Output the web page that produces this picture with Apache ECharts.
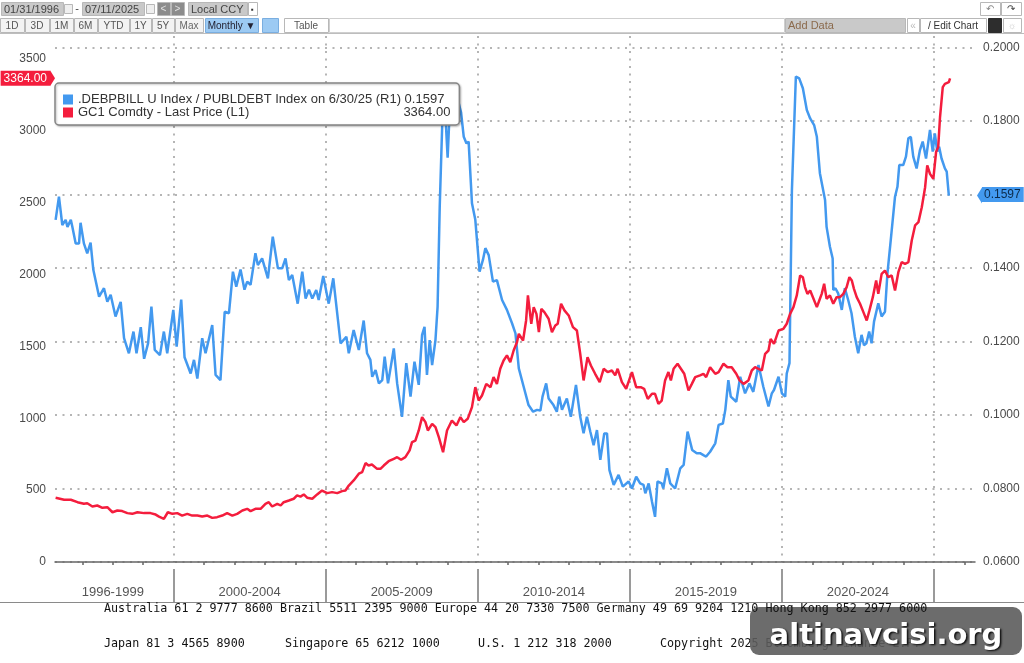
<!DOCTYPE html>
<html>
<head>
<meta charset="utf-8">
<title>T-Bills / Public Debt vs Gold</title>
<script src="https://cdn.jsdelivr.net/npm/echarts@6.0.0/dist/echarts.min.js"></script>
<style>
  html, body { margin: 0; padding: 0; background: #fff; }
  #chart { width: 1024px; height: 663px; }
</style>
</head>
<body>
<div id="chart"></div>
<script>
// --- data (x = decimal year) ---
const ratioYears = [
  1996.12, 1996.23, 1996.34, 1996.45, 1996.51, 1996.62, 1996.67, 1996.78, 1996.89, 1996.94,
  1997.05, 1997.16, 1997.27, 1997.36, 1997.55, 1997.71, 1997.82, 1997.93, 1998.09, 1998.26,
  1998.37, 1998.53, 1998.59, 1998.68, 1998.78, 1998.92, 1999.03, 1999.16, 1999.27, 1999.38,
  1999.55, 1999.68, 1999.79, 1999.99, 2000.10, 2000.25, 2000.36, 2000.56, 2000.67, 2000.78,
  2000.94, 2001.05, 2001.27, 2001.38, 2001.54, 2001.68, 2001.82, 2001.95, 2002.06, 2002.20,
  2002.33, 2002.42, 2002.53, 2002.69, 2002.77, 2002.91, 2003.10, 2003.26, 2003.43, 2003.57,
  2003.68, 2003.79, 2003.90, 2004.08, 2004.23, 2004.34, 2004.45, 2004.56, 2004.69, 2004.77,
  2004.92, 2005.10, 2005.25, 2005.49, 2005.68, 2005.76, 2005.92, 2006.09,
  2006.25, 2006.36, 2006.47, 2006.53, 2006.64, 2006.75, 2006.86, 2006.94, 2007.05, 2007.24,
  2007.35, 2007.51, 2007.65, 2007.79, 2007.92, 2008.06, 2008.17, 2008.25, 2008.33, 2008.42,
  2008.50, 2008.61, 2008.68, 2008.75, 2008.83, 2008.91, 2009.01, 2009.10, 2009.23, 2009.34,
  2009.45, 2009.54, 2009.63, 2009.70, 2009.81, 2009.92, 2010.06, 2010.17, 2010.25, 2010.36,
  2010.50, 2010.63, 2010.80, 2010.96, 2011.13, 2011.24, 2011.35, 2011.51, 2011.67, 2011.82,
  2011.95, 2012.06, 2012.13, 2012.25, 2012.33, 2012.49, 2012.60, 2012.68, 2012.77, 2012.93,
  2013.06, 2013.23, 2013.37, 2013.48, 2013.59, 2013.70, 2013.81, 2013.92, 2014.03, 2014.16,
  2014.25, 2014.33, 2014.47, 2014.63, 2014.77, 2014.96, 2015.07, 2015.21, 2015.34, 2015.45,
  2015.51, 2015.62, 2015.73, 2015.83, 2015.91,
  2016.05, 2016.10, 2016.22, 2016.33, 2016.49, 2016.66, 2016.77, 2016.90, 2017.05, 2017.20,
  2017.31, 2017.42, 2017.51, 2017.64, 2017.81, 2017.92, 2018.06, 2018.14, 2018.24, 2018.32,
  2018.50, 2018.63, 2018.79, 2018.93, 2019.06, 2019.23, 2019.39, 2019.56, 2019.67, 2019.74,
  2019.89, 2020.00, 2020.11, 2020.16, 2020.25, 2020.33, 2020.46, 2020.57, 2020.69, 2020.82,
  2020.93, 2021.06, 2021.15, 2021.25, 2021.42, 2021.47, 2021.58, 2021.67, 2021.69, 2021.76,
  2021.85, 2021.97, 2022.07, 2022.18, 2022.29, 2022.40, 2022.51, 2022.62, 2022.70, 2022.78,
  2022.87, 2022.95, 2023.03, 2023.17, 2023.28, 2023.39, 2023.47, 2023.58, 2023.72, 2023.80,
  2023.86, 2023.99, 2024.08, 2024.16, 2024.24, 2024.32, 2024.43, 2024.54, 2024.63, 2024.74,
  2024.87, 2024.96, 2025.03, 2025.11, 2025.17, 2025.25, 2025.36, 2025.42, 2025.49
];
const ratioValues = [
  0.1531, 0.1594, 0.1517, 0.1531, 0.1512, 0.1531, 0.1512, 0.1467, 0.1467, 0.1523,
  0.1467, 0.1440, 0.1469, 0.1395, 0.1322, 0.1345, 0.1308, 0.1327, 0.1268, 0.1308,
  0.1209, 0.1168, 0.1168, 0.1227, 0.1168, 0.1239, 0.1153, 0.1195, 0.1295, 0.1177,
  0.1163, 0.1227, 0.1168, 0.1286, 0.1186, 0.1314, 0.1157, 0.1113, 0.1150, 0.1099,
  0.1209, 0.1168, 0.1245, 0.1109, 0.1095, 0.1281, 0.1277, 0.1390, 0.1349, 0.1396,
  0.1341, 0.1363, 0.1354, 0.1440, 0.1408, 0.1426, 0.1372, 0.1485, 0.1399, 0.1399,
  0.1426, 0.1367, 0.1381, 0.1303, 0.1390, 0.1317, 0.1341, 0.1317, 0.1340, 0.1313,
  0.1378, 0.1303, 0.1372, 0.1195, 0.1213, 0.1168, 0.1231, 0.1177,
  0.1257, 0.1168, 0.1150, 0.1104, 0.1122, 0.1086, 0.1095, 0.1159, 0.1086, 0.1181,
  0.1086, 0.0995, 0.1141, 0.1050, 0.1145, 0.1082, 0.1218, 0.1240, 0.1109, 0.1204,
  0.1136, 0.1204, 0.1295, 0.1567, 0.1785, 0.1860, 0.1700, 0.1870, 0.1830, 0.1860,
  0.1824, 0.1757, 0.1739, 0.1744, 0.1576, 0.1531, 0.1390, 0.1422, 0.1454, 0.1435,
  0.1363, 0.1367, 0.1313, 0.1286, 0.1249, 0.1222, 0.1127, 0.1077, 0.1027, 0.1009,
  0.1014, 0.1012, 0.1050, 0.1086, 0.1045, 0.1027, 0.1009, 0.1050, 0.1014, 0.1045,
  0.0995, 0.1082, 0.0995, 0.0950, 0.0995, 0.0955, 0.0918, 0.0959, 0.0878, 0.0950,
  0.0950, 0.0850, 0.0810, 0.0837, 0.0805, 0.0819, 0.0800, 0.0832, 0.0814, 0.0810,
  0.0787, 0.0814, 0.0764, 0.0723, 0.0819,
  0.0814, 0.0800, 0.0855, 0.0814, 0.0800, 0.0855, 0.0864, 0.0955, 0.0905, 0.0896,
  0.0896, 0.0891, 0.0887, 0.0900, 0.0923, 0.0973, 0.0977, 0.1014, 0.1095, 0.1050,
  0.1036, 0.1104, 0.1059, 0.1086, 0.1063, 0.1136, 0.1077, 0.1023, 0.1059, 0.1068,
  0.1104, 0.1059, 0.1050, 0.1113, 0.1141, 0.1612, 0.1921, 0.1916, 0.1889, 0.1830,
  0.1807, 0.1789, 0.1757, 0.1658, 0.1585, 0.1512, 0.1458, 0.1426, 0.1340, 0.1345,
  0.1331, 0.1286, 0.1345, 0.1313, 0.1277, 0.1213, 0.1168, 0.1218, 0.1190, 0.1195,
  0.1227, 0.1195, 0.1254, 0.1304, 0.1268, 0.1281, 0.1385, 0.1476, 0.1594, 0.1621,
  0.1680, 0.1680, 0.1703, 0.1753, 0.1757, 0.1703, 0.1671, 0.1721, 0.1744, 0.1698,
  0.1776, 0.1717, 0.1766, 0.1717, 0.1730, 0.1698, 0.1671, 0.1662, 0.1597
];

const goldYears = [
  1996.12, 1996.40, 1996.62, 1996.84, 1997.05, 1997.16, 1997.33, 1997.49, 1997.66, 1997.82,
  1997.99, 1998.15, 1998.31, 1998.48, 1998.64, 1998.81, 1999.03, 1999.24, 1999.41, 1999.52,
  1999.68, 1999.81, 1999.96, 2000.12, 2000.28, 2000.45, 2000.61, 2000.78, 2000.94, 2001.11,
  2001.27, 2001.43, 2001.60, 2001.76, 2001.93, 2002.09, 2002.26, 2002.42, 2002.53, 2002.69,
  2002.86, 2003.02, 2003.13, 2003.24, 2003.41, 2003.52, 2003.62, 2003.79, 2003.95, 2004.06,
  2004.17, 2004.28, 2004.39, 2004.56, 2004.72, 2004.88, 2005.05, 2005.21, 2005.38, 2005.54,
  2005.65, 2005.76, 2005.92, 2006.09,
  2006.20, 2006.31, 2006.41, 2006.52, 2006.69, 2006.80, 2006.91, 2007.07, 2007.24, 2007.35,
  2007.48, 2007.62, 2007.76, 2007.84, 2007.95, 2008.06, 2008.17, 2008.28, 2008.36, 2008.50,
  2008.61, 2008.72, 2008.86, 2008.99, 2009.15, 2009.30, 2009.43, 2009.54, 2009.67, 2009.81,
  2009.92, 2010.03, 2010.14, 2010.28, 2010.42, 2010.52, 2010.63, 2010.74, 2010.85, 2010.96,
  2011.07, 2011.18, 2011.29, 2011.35, 2011.49, 2011.59, 2011.65, 2011.76, 2011.84, 2011.93,
  2012.01, 2012.09, 2012.19, 2012.33, 2012.44, 2012.55, 2012.63, 2012.74, 2012.85, 2012.99,
  2013.13, 2013.26, 2013.37, 2013.48, 2013.61, 2013.72, 2013.86, 2014.01, 2014.14, 2014.27,
  2014.41, 2014.52, 2014.60, 2014.74, 2014.88, 2015.07, 2015.21, 2015.36, 2015.47, 2015.59,
  2015.73, 2015.83, 2015.94,
  2016.05, 2016.16, 2016.27, 2016.35, 2016.44, 2016.57, 2016.68, 2016.79, 2016.93, 2017.04,
  2017.15, 2017.31, 2017.42, 2017.51, 2017.64, 2017.81, 2017.92, 2018.08, 2018.21, 2018.35,
  2018.50, 2018.61, 2018.74, 2018.90, 2019.01, 2019.12, 2019.23, 2019.34, 2019.45, 2019.56,
  2019.63, 2019.74, 2019.89, 2020.05, 2020.16, 2020.27, 2020.38, 2020.49, 2020.60, 2020.69,
  2020.76, 2020.84, 2020.93, 2021.04, 2021.15, 2021.23, 2021.31, 2021.39, 2021.47, 2021.58,
  2021.69, 2021.80, 2021.91, 2022.02, 2022.13, 2022.22, 2022.30, 2022.37, 2022.46, 2022.57,
  2022.68, 2022.79, 2022.88, 2022.99, 2023.10, 2023.17, 2023.28, 2023.39, 2023.50, 2023.61,
  2023.72, 2023.83, 2023.94, 2024.05, 2024.16, 2024.27, 2024.38, 2024.49, 2024.60, 2024.71,
  2024.78, 2024.87, 2024.98, 2025.07, 2025.14, 2025.20, 2025.29, 2025.36, 2025.42, 2025.49,
  2025.53
];
const goldValues = [
  447, 433, 433, 416, 405, 409, 386, 393, 377, 381,
  346, 358, 354, 340, 335, 346, 340, 340, 330, 316,
  300, 346, 335, 340, 323, 335, 323, 323, 316, 323,
  307, 312, 323, 340, 323, 335, 358, 370, 354, 370,
  370, 405, 416, 386, 405, 393, 416, 428, 440, 463,
  455, 470, 447, 440, 470, 497, 479, 486, 479, 493,
  497, 532, 567, 614,
  625, 688, 671, 678, 648, 648, 671, 701, 718, 729,
  711, 729, 776, 834, 845, 915, 1008, 973, 915, 961,
  938, 868, 764, 915, 984, 950, 1008, 973, 996, 1077,
  1216, 1123, 1158, 1239, 1216, 1286, 1239, 1344, 1402, 1437,
  1390, 1471, 1529, 1587, 1541, 1680, 1854, 1657, 1773, 1726,
  1599, 1761, 1738, 1692, 1599, 1645, 1657, 1796, 1750, 1715,
  1634, 1610, 1448, 1263, 1425, 1367, 1309, 1251, 1344, 1321,
  1332, 1298, 1344, 1251, 1205, 1321, 1216, 1216, 1205, 1135,
  1170, 1170, 1100,
  1123, 1263, 1321, 1263, 1344, 1379, 1344, 1309, 1193, 1239,
  1286, 1298, 1309, 1286, 1355, 1309, 1321, 1379, 1355, 1355,
  1309, 1263, 1239, 1263, 1332, 1355, 1344, 1332, 1448, 1471,
  1552, 1517, 1610, 1622, 1657, 1726, 1773, 1854, 1993, 1981,
  1912, 1865, 1889, 1831, 1773, 1819, 1865, 1935, 1831, 1854,
  1796, 1842, 1842, 1865, 1912, 1981, 1958, 1900, 1842, 1796,
  1738, 1680, 1750, 1842, 1958, 1865, 2004, 2027, 1981, 1993,
  1889, 2016, 2086, 2074, 2086, 2236, 2341, 2364, 2468, 2607,
  2758, 2700, 2665, 2851, 2886, 3095, 3303, 3326, 3315, 3338,
  3364
];

const lastRatio = 0.1597;
const lastGold = 3364.00;

const ratioName = '.DEBPBILL U Index / PUBLDEBT Index on 6/30/25 (R1)';
const goldName = 'GC1 Comdty - Last Price (L1)';

// x axis: year ticks, 5-year separators and period labels
const yearTicks = [1997, 1998, 1999, 2001, 2002, 2003, 2004, 2006, 2007, 2008, 2009,
  2011, 2012, 2013, 2014, 2016, 2017, 2018, 2019, 2021, 2022, 2023, 2024, 2026];
const boundaryYears = [2000, 2005, 2010, 2015, 2020, 2025];
const periodCenters = [1998, 2002.5, 2007.5, 2012.5, 2017.5, 2022.5];
const periodLabels = ['1996-1999', '2000-2004', '2005-2009', '2010-2014', '2015-2019', '2020-2024'];

const BLUE = '#4399ef';
const RED = '#f41d3d';
const FONT = "'Liberation Sans', Arial, sans-serif";
const MONO = "'DejaVu Sans Mono', 'Liberation Mono', monospace";
const GRID_DOTS = { color: '#b5b5b5', width: 2, type: [2, 5.5] };

// measure legend text so the two value columns line up
const ctx = document.createElement('canvas').getContext('2d');
ctx.font = '13px ' + FONT;
const line1 = ratioName + ' ' + lastRatio.toFixed(4);
const w1 = ctx.measureText(line1).width;
const wGold = ctx.measureText(lastGold.toFixed(2)).width;

// toolbar / footer decorations
function button(x, y, w, h, label, o = {}) {
  const items = [{
    type: 'rect', shape: { x: x + 0.5, y: y + 0.5, width: w, height: h },
    style: { fill: o.fill || '#f3f3f3', stroke: o.stroke || '#b8b8b8', lineWidth: 1 }
  }];
  if (label) {
    items.push({
      type: 'text', x: o.left ? x + 3 : x + w / 2, y: y + h / 2 + 1,
      style: {
        text: label, fill: o.color || '#555', font: (o.size || 10) + 'px ' + FONT,
        align: o.left ? 'left' : 'center', verticalAlign: 'middle'
      }
    });
  }
  return items;
}

const toolbar = [].concat(
  button(1, 2, 62, 13, '01/31/1996', { fill: '#c9c9c9', color: '#444', size: 11, left: true }),
  button(64, 4, 8, 9, '', { fill: '#efefef' }),
  [{ type: 'text', x: 77, y: 9, style: { text: '-', fill: '#444', font: '11px ' + FONT, align: 'center', verticalAlign: 'middle' } }],
  button(82, 2, 62, 13, '07/11/2025', { fill: '#c9c9c9', color: '#444', size: 11, left: true }),
  button(146, 4, 8, 9, '', { fill: '#efefef' }),
  button(157, 2, 13, 13, '<', { fill: '#8c8c8c', color: '#e0e0e0' }),
  button(171, 2, 13, 13, '>', { fill: '#8c8c8c', color: '#e0e0e0' }),
  button(188, 2, 59, 13, 'Local CCY', { fill: '#c9c9c9', color: '#444', size: 11, left: true }),
  button(248, 2, 9, 13, '▪', { fill: '#fff', color: '#333', size: 8 }),
  button(980, 2, 20, 13, '↶', { fill: '#fff', color: '#888' }),
  button(1001, 2, 20, 13, '↷', { fill: '#fff', color: '#444' }),
  button(0, 18, 24, 14, '1D'),
  button(25, 18, 24, 14, '3D'),
  button(50, 18, 23, 14, '1M'),
  button(74, 18, 23, 14, '6M'),
  button(98, 18, 31, 14, 'YTD'),
  button(130, 18, 21, 14, '1Y'),
  button(152, 18, 22, 14, '5Y'),
  button(175, 18, 28, 14, 'Max', { color: '#666' }),
  button(205, 18, 53, 14, 'Monthly ▼', { fill: '#9ccaf3', color: '#223', stroke: '#7aaee0' }),
  button(262, 18, 16, 14, '', { fill: '#9ccaf3', stroke: '#7aaee0' }),
  button(284, 18, 44, 14, 'Table', { fill: '#fff' }),
  button(329, 18, 455, 14, '', { fill: '#fff', stroke: '#cfcfcf' }),
  button(785, 18, 120, 14, 'Add Data', { fill: '#c9c9c9', color: '#8b6a4c', size: 11, left: true }),
  button(907, 18, 12, 14, '«', { fill: '#fff', color: '#bbb' }),
  button(920, 18, 66, 14, '/ Edit Chart', { fill: '#fff', color: '#333' }),
  button(988, 18, 13, 14, '', { fill: '#2d2d2d', stroke: '#2d2d2d' }),
  button(1003, 18, 18, 14, '☼', { fill: '#fff', color: '#ccc' }),
  [{ type: 'line', shape: { x1: 0, y1: 33.5, x2: 1024, y2: 33.5 }, style: { stroke: '#bdbdbd', lineWidth: 1 } }]
);

const footer = [
  { type: 'line', shape: { x1: 0, y1: 602.5, x2: 1024, y2: 602.5 }, style: { stroke: '#8a8a8a', lineWidth: 1 } },
  { type: 'rect', z: 100, shape: { x: 750, y: 607, width: 272, height: 48, r: 9 }, style: { fill: 'rgba(92,92,92,0.9)' } },
  { type: 'text', z: 101, x: 886, y: 636, style: {
      text: 'altinavcisi.org', fill: '#fff', font: "bold 29px 'DejaVu Sans', sans-serif",
      align: 'center', verticalAlign: 'middle',
      textShadowColor: 'rgba(0,0,0,0.9)', textShadowBlur: 2, textShadowOffsetX: 1.5, textShadowOffsetY: 1.5 } },
  // first contact line sits above the watermark box, the second one below it
  { type: 'text', z: 102, x: 104, y: 609, style: { text: 'Australia 61 2 9777 8600 Brazil 5511 2395 9000 Europe 44 20 7330 7500 Germany 49 69 9204 1210 Hong Kong 852 2977 6000', fill: '#111', font: '11.7px ' + MONO, verticalAlign: 'middle' } },
  { type: 'text', x: 104, y: 644, style: { text: 'Japan 81 3 4565 8900', fill: '#111', font: '11.7px ' + MONO, verticalAlign: 'middle' } },
  { type: 'text', x: 285, y: 644, style: { text: 'Singapore 65 6212 1000', fill: '#111', font: '11.7px ' + MONO, verticalAlign: 'middle' } },
  { type: 'text', x: 478, y: 644, style: { text: 'U.S. 1 212 318 2000', fill: '#111', font: '11.7px ' + MONO, verticalAlign: 'middle' } },
  { type: 'text', x: 660, y: 644, style: { text: 'Copyright 2025 Bloomberg Finance L.P.', fill: '#111', font: '11.7px ' + MONO, verticalAlign: 'middle' } }
];

const chart = echarts.init(document.getElementById('chart'), null, { renderer: 'canvas' });

const option = {
  backgroundColor: '#fff',
  animation: false,
  textStyle: { fontFamily: FONT },
  grid: { left: 55, right: 49, top: 36, bottom: 101, outerBoundsMode: 'none', containLabel: false },
  legend: {
    left: 55, top: 83, orient: 'vertical',
    icon: 'rect', itemWidth: 10, itemHeight: 10, itemGap: 0, selectedMode: false,
    padding: [10, 9, 6, 8],
    backgroundColor: '#fff', borderColor: '#858585', borderWidth: 1.5, borderRadius: 4,
    shadowColor: 'rgba(0,0,0,0.25)', shadowBlur: 2, shadowOffsetX: 1, shadowOffsetY: 1,
    data: [ratioName, goldName],
    formatter: name => name === ratioName
      ? '{a|' + line1 + '}'
      : '{b|' + goldName + '}{c|' + lastGold.toFixed(2) + '}',
    textStyle: {
      rich: {
        a: { fontSize: 13, fontFamily: FONT, color: '#333', lineHeight: 15 },
        b: { fontSize: 13, fontFamily: FONT, color: '#333', lineHeight: 15, width: w1 + 6 - wGold },
        c: { fontSize: 13, fontFamily: FONT, color: '#333', lineHeight: 15, width: wGold, align: 'right' }
      }
    }
  },
  xAxis: [
    {
      type: 'value', min: 1996.1, max: 2026.35, position: 'bottom', offset: 7,
      axisLine: { show: true, lineStyle: { color: '#666', width: 1.5 } },
      axisTick: { show: true, customValues: yearTicks, length: 3, lineStyle: { color: '#666', width: 1.5 } },
      axisLabel: { show: false },
      splitLine: { show: false }
    },
    {
      type: 'value', min: 1996.1, max: 2026.35, position: 'bottom', offset: 7,
      axisLine: { show: false },
      axisTick: { show: true, customValues: boundaryYears, length: 33, lineStyle: { color: '#9a9a9a', width: 2 } },
      axisLabel: {
        show: true, customValues: periodCenters, margin: 17, fontSize: 13, color: '#555',
        formatter: v => periodLabels[periodCenters.findIndex(c => Math.abs(c - v) < 1e-6)] || ''
      },
      splitLine: { show: true, lineStyle: GRID_DOTS }
    }
  ],
  yAxis: [
    {
      type: 'value', position: 'left', min: 0, max: 3658.6, interval: 500,
      axisLine: { show: false }, axisTick: { show: false },
      axisLabel: { color: '#4a4a4a', fontSize: 12, margin: 9, showMaxLabel: false, formatter: v => String(v) },
      splitLine: { show: false }
    },
    {
      type: 'value', position: 'right', min: 0.06, max: 0.20313, interval: 0.02,
      axisLine: { show: false }, axisTick: { show: false },
      axisLabel: {
        color: '#4a4a4a', fontSize: 12, margin: 8, showMaxLabel: false,
        formatter: v => Math.abs(v - 0.16) < 1e-6 ? '' : v.toFixed(4)
      },
      splitLine: { show: true, showMaxLine: false, lineStyle: GRID_DOTS }
    }
  ],
  series: [
    {
      name: ratioName, type: 'line', xAxisIndex: 0, yAxisIndex: 1,
      data: ratioYears.map((y, i) => [y, ratioValues[i]]),
      showSymbol: false, lineStyle: { color: BLUE, width: 2.5 }, itemStyle: { color: BLUE },
      emphasis: { disabled: true }, z: 3,
      markLine: {
        silent: true, symbol: 'none', animation: false, emphasis: { disabled: true },
        lineStyle: { color: 'rgba(0,0,0,0)', width: 1 },
        label: {
          position: 'end', distance: 7, formatter: () => lastRatio.toFixed(4),
          color: '#0c2a4a', backgroundColor: BLUE, padding: [2, 3, 1, 2],
          fontSize: 12, fontFamily: FONT
        },
        data: [{ yAxis: lastRatio }]
      }
    },
    {
      name: goldName, type: 'line', xAxisIndex: 0, yAxisIndex: 0,
      data: goldYears.map((y, i) => [y, goldValues[i]]),
      showSymbol: false, lineStyle: { color: RED, width: 2.5 }, itemStyle: { color: RED },
      emphasis: { disabled: true }, z: 4,
      markLine: {
        silent: true, symbol: 'none', animation: false, emphasis: { disabled: true },
        lineStyle: { color: 'rgba(0,0,0,0)', width: 1 },
        label: {
          position: 'start', distance: 5, formatter: () => lastGold.toFixed(2),
          color: '#fff', backgroundColor: RED, padding: [2, 3, 1, 3],
          fontSize: 12, fontFamily: FONT
        },
        data: [{ yAxis: lastGold }]
      }
    }
  ],
  graphic: toolbar.concat(footer)
};

chart.setOption(option);

// little pointer arrows on the last-value tags, placed through the axis scales
const gy = chart.convertToPixel({ yAxisIndex: 0 }, lastGold);
const ry = chart.convertToPixel({ yAxisIndex: 1 }, lastRatio);
chart.setOption({
  graphic: toolbar.concat(footer, [
    { type: 'polygon', shape: { points: [[50, gy - 8], [55, gy], [50, gy + 8]] }, style: { fill: RED } },
    { type: 'polygon', shape: { points: [[982, ry - 8], [977, ry], [982, ry + 8]] }, style: { fill: BLUE } }
  ])
});
</script>
</body>
</html>
